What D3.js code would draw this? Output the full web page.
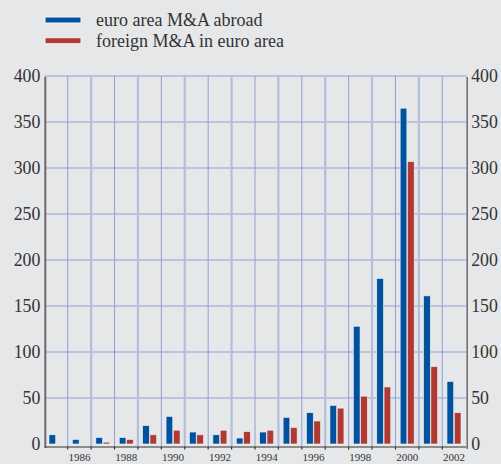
<!DOCTYPE html>
<html>
<head>
<meta charset="utf-8">
<script src="https://cdn.jsdelivr.net/npm/d3@7"></script>
<style>
  body { margin: 0; background: #e6e7e9; }
  svg { display: block; }
  text { font-family: "Liberation Serif", "Times New Roman", serif; fill: #333; }
</style>
</head>
<body>
<svg width="501" height="464"></svg>
<script>
// values (EUR billions)
var years = [1985, 1986, 1987, 1988, 1989, 1990, 1991, 1992, 1993, 1994,
             1995, 1996, 1997, 1998, 1999, 2000, 2001, 2002];
var abroad = [10, 5, 7, 7, 20, 30, 13, 10, 6.5, 13, 29, 34, 42, 128, 180, 365, 161, 68];
var inEuro = [0, 0, 2, 5, 10, 15, 10, 15, 13.5, 15, 18, 25, 39, 52, 62, 307, 84, 34];
var yTicks = [0, 50, 100, 150, 200, 250, 300, 350, 400];
var seriesNames = ["euro area M&A abroad", "foreign M&A in euro area"];
var colors = ["#00529f", "#b03a33"];

var serif = '"Liberation Serif", "Times New Roman", serif';

var svg = d3.select("svg"),
    pLeft = 44.3, pRight = 465.7, pTop = 76, pBottom = 444;

var x = d3.scaleBand().domain(years).range([pLeft, pRight]).padding(0);
var x1 = d3.scaleBand().domain([0, 1]).range([0, 14.6]);
var y = d3.scaleLinear().domain([0, 400]).range([pBottom, pTop]);

// horizontal grid
svg.append("g").selectAll("line")
  .data(yTicks.slice(1))
  .enter().append("line")
    .attr("x1", pLeft).attr("x2", pRight + 1)
    .attr("y1", function(d) { return y(d); })
    .attr("y2", function(d) { return y(d); })
    .attr("stroke", "#8e9fdc").attr("stroke-width", 1);

// vertical grid at year boundaries, heavier after even years
svg.append("g").selectAll("line")
  .data(years.slice(1))
  .enter().append("line")
    .attr("x1", function(d) { return x(d); })
    .attr("x2", function(d) { return x(d); })
    .attr("y1", pTop).attr("y2", pBottom + 2)
    .attr("stroke", function(d) { return d % 2 ? "#b3bedc" : "#8e9fdc"; })
    .attr("stroke-width", function(d) { return d % 2 ? 2.2 : 1; });

// bars
var rows = years.map(function(yr, i) { return {year: yr, vals: [abroad[i], inEuro[i]]}; });
var grp = svg.append("g").selectAll("g")
  .data(rows)
  .enter().append("g")
    .attr("transform", function(d) { return "translate(" + (x(d.year) + x.bandwidth() / 2 - 7.3) + ",0)"; });

grp.selectAll("rect")
  .data(function(d) { return d.vals.map(function(v, k) { return {k: k, v: v}; }).filter(function(d) { return d.v > 0; }); })
  .enter().append("rect")
    .attr("x", function(d) { return x1(d.k) + 0.3; })
    .attr("width", x1.bandwidth() - 0.6)
    .attr("y", function(d) { return y(d.v); })
    .attr("height", function(d) { return y(0) - y(d.v); })
    .attr("fill", function(d) { return colors[d.k]; })
    .attr("stroke", "#eef0f6").attr("stroke-width", 0.6);

// axes
var yAxisL = d3.axisLeft(y).tickValues(yTicks).tickSize(0).tickPadding(5);
var yAxisR = d3.axisRight(y).tickValues(yTicks).tickSize(0).tickPadding(4);

function styleY(g) {
  g.attr("font-family", serif).attr("font-size", 17.8);
  g.select(".domain").remove();
  g.selectAll("text").attr("fill", "#333").attr("dy", "0.3em");
}
svg.append("g").attr("transform", "translate(" + (pLeft + 1) + ",0)").call(yAxisL).call(styleY);
svg.append("g").attr("transform", "translate(" + (pRight + 1.5) + ",0)").call(yAxisR).call(styleY);

svg.append("line").attr("x1", pLeft + 1).attr("x2", pLeft + 1).attr("y1", pTop + 1).attr("y2", pBottom + 4)
  .attr("stroke", "#6b6b6b").attr("stroke-width", 2);
svg.append("line").attr("x1", pRight + 1.5).attr("x2", pRight + 1.5).attr("y1", pTop + 1).attr("y2", pBottom + 5)
  .attr("stroke", "#6b6b6b").attr("stroke-width", 1.5);

// bottom axis: baseline with small ticks at year boundaries
var xAxis = d3.axisBottom(x).tickValues(years.filter(function(d) { return d % 2 === 0; }))
  .tickSize(0).tickPadding(7);
svg.append("g").attr("transform", "translate(0," + (pBottom + 2.5) + ")").call(xAxis)
  .call(function(g) {
    g.attr("font-family", serif).attr("font-size", 11);
    g.select(".domain").attr("stroke", "#333").attr("stroke-width", 1.2);
    g.selectAll("text").attr("fill", "#333");
  });
svg.append("g").selectAll("line")
  .data(years.slice(1))
  .enter().append("line")
    .attr("x1", function(d) { return x(d); })
    .attr("x2", function(d) { return x(d); })
    .attr("y1", pBottom + 2.5).attr("y2", pBottom + 5.5)
    .attr("stroke", "#333").attr("stroke-width", 1.2);

// legend
var leg = svg.append("g").selectAll("g")
  .data(seriesNames)
  .enter().append("g")
    .attr("transform", function(d, i) { return "translate(45," + (17 + i * 20.7) + ")"; });
leg.append("rect").attr("width", 36).attr("height", 6)
  .attr("fill", function(d, i) { return colors[i]; })
  .attr("stroke", "#f6f6f8").attr("stroke-width", 1);
leg.append("text").attr("x", 51).attr("y", 8.8)
  .attr("font-family", serif).attr("font-size", 18).attr("fill", "#333")
  .text(function(d) { return d; });
</script>
</body>
</html>
